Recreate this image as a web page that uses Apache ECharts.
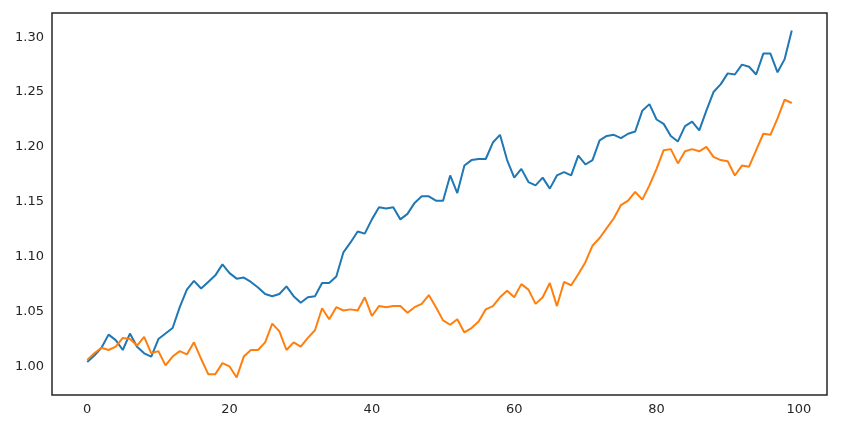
<!DOCTYPE html>
<html>
<head>
<meta charset="utf-8">
<script src="https://cdn.jsdelivr.net/npm/echarts@6/dist/echarts.min.js"></script>
<style>html,body{margin:0;padding:0;background:#fff}#c{width:848px;height:421px}</style>
</head>
<body>
<div id="c"></div>
<script>
const xTicks = [0, 20, 40, 60, 80, 100];
const yTicks = [1.00, 1.05, 1.10, 1.15, 1.20, 1.25, 1.30];
const seriesA = [1.004,1.010,1.017,1.029,1.024,1.015,1.030,1.018,1.012,1.009,
  1.025,1.030,1.035,1.054,1.070,1.078,1.071,1.077,1.083,1.093,
  1.085,1.080,1.081,1.077,1.072,1.066,1.064,1.066,1.073,1.064,
  1.058,1.063,1.064,1.076,1.076,1.082,1.104,1.113,1.123,1.121,
  1.134,1.145,1.144,1.145,1.134,1.139,1.149,1.155,1.155,1.151,
  1.151,1.174,1.158,1.183,1.188,1.189,1.189,1.204,1.211,1.188,
  1.172,1.180,1.168,1.165,1.172,1.162,1.174,1.177,1.174,1.192,
  1.184,1.188,1.206,1.210,1.211,1.208,1.212,1.214,1.233,1.239,
  1.225,1.221,1.210,1.205,1.219,1.223,1.215,1.233,1.250,1.257,
  1.267,1.266,1.275,1.273,1.266,1.285,1.285,1.268,1.280,1.306];
const seriesB = [1.006,1.012,1.017,1.015,1.018,1.026,1.025,1.019,1.027,1.012,
  1.014,1.001,1.009,1.014,1.011,1.022,1.007,0.993,0.993,1.003,
  1.000,0.990,1.009,1.015,1.015,1.022,1.039,1.032,1.015,1.022,
  1.018,1.026,1.033,1.053,1.043,1.054,1.051,1.052,1.051,1.063,
  1.046,1.055,1.054,1.055,1.055,1.049,1.054,1.057,1.065,1.054,
  1.042,1.038,1.043,1.031,1.035,1.041,1.052,1.055,1.063,1.069,
  1.063,1.075,1.070,1.057,1.063,1.076,1.055,1.077,1.074,1.084,
  1.095,1.110,1.117,1.126,1.135,1.147,1.151,1.159,1.152,1.165,
  1.180,1.197,1.198,1.185,1.196,1.198,1.196,1.200,1.191,1.188,
  1.187,1.174,1.183,1.182,1.197,1.212,1.211,1.226,1.243,1.240];

const toPairs = arr => arr.map((v, i) => [i, v]);
const chart = echarts.init(document.getElementById('c'), null, {renderer: 'canvas'});
const labelStyle = {color: '#262626', fontSize: 13, fontFamily: 'DejaVu Sans'};
chart.setOption({
  animation: false,
  grid: {left: 52, right: 21, top: 13, bottom: 26, show: true, borderColor: '#262626', borderWidth: 1.5, backgroundColor: 'transparent'},
  xAxis: {
    type: 'value', min: -4.95, max: 103.95,
    axisLine: {show: false}, splitLine: {show: false},
    axisTick: {show: false},
    axisLabel: Object.assign({customValues: xTicks, margin: 8, formatter: v => String(Math.round(v))}, labelStyle)
  },
  yAxis: {
    type: 'value', min: 0.974, max: 1.322,
    axisLine: {show: false}, splitLine: {show: false},
    axisTick: {show: false},
    axisLabel: Object.assign({customValues: yTicks, margin: 8, formatter: v => v.toFixed(2)}, labelStyle)
  },
  series: [
    {type: 'line', data: toPairs(seriesA), showSymbol: false, lineStyle: {color: '#1f77b4', width: 2}, itemStyle: {color: '#1f77b4'}},
    {type: 'line', data: toPairs(seriesB), showSymbol: false, lineStyle: {color: '#ff7f0e', width: 2}, itemStyle: {color: '#ff7f0e'}}
  ]
});
</script>
</body>
</html>
